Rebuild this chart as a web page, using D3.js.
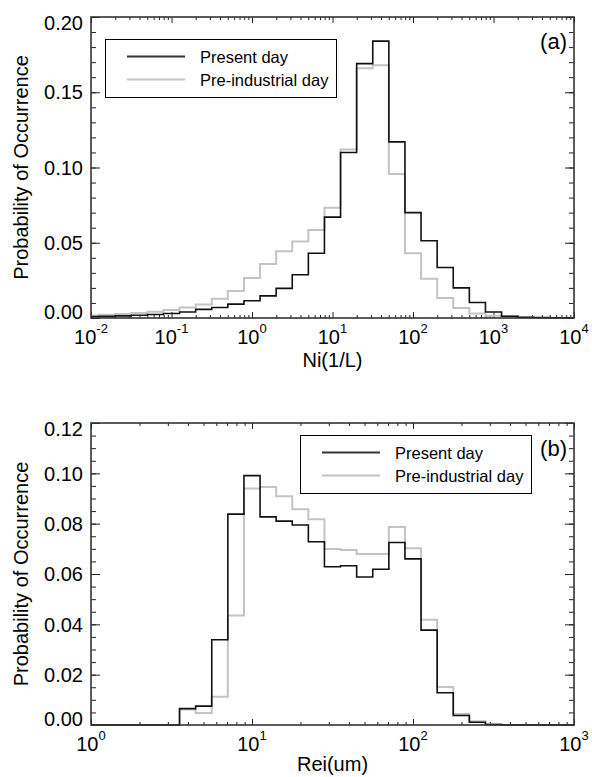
<!DOCTYPE html>
<html>
<head>
<meta charset="utf-8">
<script src="https://cdn.jsdelivr.net/npm/d3@7"></script>
<style>
body { margin: 0; background: #fff; }
text { font-family: "Liberation Sans", Arial, Helvetica, sans-serif; fill: #000; }
</style>
</head>
<body>
<svg id="chart" width="592" height="777"></svg>
<script>
// Panel (a): bin centres given as log10(Ni)
const niExp = [-2.0, -1.8, -1.6, -1.4, -1.2, -1.0, -0.8, -0.6, -0.4, -0.2, 0.0, 0.2, 0.4, 0.6, 0.8, 1.0,
               1.2, 1.4, 1.6, 1.8, 2.0, 2.2, 2.4, 2.6, 2.8, 3.0, 3.2, 3.4, 3.6, 3.8, 4.0];
const niPresent = [0.0009, 0.0011, 0.0014, 0.0018, 0.0023, 0.0030, 0.0040, 0.0057, 0.0070, 0.0092, 0.0115,
                   0.0147, 0.0197, 0.0287, 0.0430, 0.0670, 0.1100, 0.1690, 0.1840, 0.1170, 0.0700, 0.0513,
                   0.0336, 0.0200, 0.0103, 0.0040, 0.0012, 0.0005, 0.0003, 0.0002, 0.0001];
const niPreInd = [0.0016, 0.0021, 0.0027, 0.0033, 0.0042, 0.0053, 0.0070, 0.0090, 0.0128, 0.0180, 0.0265,
                  0.0358, 0.0443, 0.0508, 0.0585, 0.0733, 0.1120, 0.1660, 0.1680, 0.0956, 0.0430, 0.0260,
                  0.0133, 0.0067, 0.0030, 0.0015, 0.0011, 0.0004, 0.0002, 0.0001, 0.0000];
const niXTicks = [-2, -1, 0, 1, 2, 3, 4];
const niYTicks = [0, 0.05, 0.10, 0.15, 0.20];

// Panel (b): bin centres given as log10(Rei)
const reiExp = [0.0, 0.1, 0.2, 0.3, 0.4, 0.5, 0.6, 0.7, 0.8, 0.9, 1.0, 1.1, 1.2, 1.3, 1.4, 1.5,
                1.6, 1.7, 1.8, 1.9, 2.0, 2.1, 2.2, 2.3, 2.4, 2.5, 2.6, 2.7, 2.8, 2.9, 3.0];
const reiPresent = [0, 0, 0, 0, 0, 0, 0.0065, 0.0075, 0.0339, 0.0838, 0.0991, 0.0827, 0.0810, 0.0795,
                    0.0728, 0.0629, 0.0633, 0.0588, 0.0619, 0.0725, 0.0660, 0.0377, 0.0128, 0.0038,
                    0.0011, 0.0002, 0, 0, 0, 0, 0];
const reiPreInd = [0, 0, 0, 0, 0, 0, 0.0062, 0.0048, 0.0112, 0.0435, 0.0940, 0.0946, 0.0909, 0.0857,
                   0.0818, 0.0699, 0.0695, 0.0679, 0.0679, 0.0787, 0.0702, 0.0418, 0.0151, 0.0044,
                   0.0015, 0.0003, 0, 0, 0, 0, 0];
const reiXTicks = [0, 1, 2, 3];
const reiYTicks = [0, 0.02, 0.04, 0.06, 0.08, 0.10, 0.12];

const seriesNames = ["Present day", "Pre-industrial day"];
const seriesColors = ["#111", "#c4c4c4"];

const svg = d3.select("#chart");
svg.append("rect").attr("width", 592).attr("height", 777).attr("fill", "#fff");

const left = 91, right = 574;

function tickAxis(g, maker, scale, values, size, tx, ty) {
    const a = g.append("g")
        .attr("transform", `translate(${tx},${ty})`)
        .call(maker(scale).tickValues(values).tickSize(-size).tickFormat(""));
    a.select(".domain").remove();
    a.selectAll("line").attr("stroke", "#222");
}

function drawPanel(p) {
    const g = svg.append("g");
    const x = d3.scaleLog().domain([10 ** p.xTicks[0], 10 ** p.xTicks[p.xTicks.length - 1]]).range([left, right]);
    const y = d3.scaleLinear().domain([0, p.yTicks[p.yTicks.length - 1]]).range([p.bottom, p.top]);

    // minor ticks: 2..9 in each decade, regular steps on y
    const xMinor = [];
    p.xTicks.slice(0, -1).forEach(e => { for (let k = 2; k <= 9; k++) xMinor.push(k * 10 ** e); });
    const xMajor = p.xTicks.map(e => 10 ** e);
    const yMinor = d3.range(0, y.domain()[1] + 1e-9, p.yMinor);

    tickAxis(g, d3.axisBottom, x, xMinor, 3, 0, p.bottom);
    tickAxis(g, d3.axisBottom, x, xMajor, 6, 0, p.bottom);
    tickAxis(g, d3.axisTop, x, xMinor, 3, 0, p.top);
    tickAxis(g, d3.axisTop, x, xMajor, 6, 0, p.top);
    tickAxis(g, d3.axisLeft, y, yMinor, 5, left, 0);
    tickAxis(g, d3.axisLeft, y, p.yTicks, 9, left, 0);
    tickAxis(g, d3.axisRight, y, yMinor, 5, right, 0);
    tickAxis(g, d3.axisRight, y, p.yTicks, 9, right, 0);

    // histograms, gray first so black sits on top
    const line = d3.line()
        .x(d => x(10 ** d[0]))
        .y(d => y(d[1]))
        .curve(d3.curveStep);
    g.append("path")
        .datum(p.xs.map((e, i) => [e, p.pre[i]]))
        .attr("fill", "none").attr("stroke", seriesColors[1]).attr("stroke-width", 2)
        .attr("d", line);
    g.append("path")
        .datum(p.xs.map((e, i) => [e, p.present[i]]))
        .attr("fill", "none").attr("stroke", seriesColors[0]).attr("stroke-width", 1.6)
        .attr("d", line);

    // frame
    g.append("rect")
        .attr("x", left).attr("y", p.top)
        .attr("width", right - left).attr("height", p.bottom - p.top)
        .attr("fill", "none").attr("stroke", "#333").attr("stroke-width", 1.6);

    // y tick labels (end labels pulled inward like the original)
    const fmt = d3.format(".2f");
    p.yTicks.forEach((v, i) => {
        let shift = 0;
        if (i === 0) shift = -6;
        if (i === p.yTicks.length - 1) shift = 6;
        g.append("text")
            .attr("x", 83).attr("y", y(v) + shift)
            .attr("dy", "0.36em")
            .attr("text-anchor", "end")
            .style("font-size", "20px")
            .text(fmt(v));
    });

    // x tick labels 10^n
    p.xTicks.forEach(e => {
        const t = g.append("text")
            .attr("x", x(10 ** e)).attr("y", p.bottom + 26)
            .attr("text-anchor", "middle")
            .style("font-size", "20px");
        t.append("tspan").text("10");
        t.append("tspan").attr("dy", -11).style("font-size", "13px").text(String(e));
    });

    // axis titles
    g.append("text")
        .attr("x", (left + right) / 2).attr("y", p.bottom + p.titleDy)
        .attr("text-anchor", "middle")
        .style("font-size", "20px")
        .text(p.xTitle);
    g.append("text")
        .attr("transform", `translate(28,${(p.top + p.bottom) / 2}) rotate(-90)`)
        .attr("text-anchor", "middle")
        .style("font-size", "20px")
        .text("Probability of Occurrence");

    // panel tag
    g.append("text")
        .attr("x", 567).attr("y", p.top + p.tagDy)
        .attr("text-anchor", "end")
        .style("font-size", "22px")
        .text(p.tag);

    // legend
    const lg = g.append("g").attr("transform", `translate(${p.legend[0]},${p.legend[1]})`);
    lg.append("rect")
        .attr("x", 0.5).attr("y", 0.5).attr("width", 231).attr("height", 58)
        .attr("fill", "#fff").attr("stroke", "#000").attr("stroke-width", 1);
    seriesNames.forEach((name, i) => {
        lg.append("line")
            .attr("x1", 22).attr("x2", 80)
            .attr("y1", 17.5 + i * 23).attr("y2", 17.5 + i * 23)
            .attr("stroke", i === 0 ? "#333" : seriesColors[1]).attr("stroke-width", 2);
        lg.append("text")
            .attr("x", 95).attr("y", 23.5 + i * 23)
            .style("font-size", "16.5px")
            .text(name);
    });
}

drawPanel({
    top: 17, bottom: 318, xs: niExp, present: niPresent, pre: niPreInd,
    xTicks: niXTicks, yTicks: niYTicks, yMinor: 0.01,
    xTitle: "Ni(1/L)", titleDy: 49, tag: "(a)", tagDy: 32, legend: [105, 39]
});

drawPanel({
    top: 423, bottom: 725, xs: reiExp, present: reiPresent, pre: reiPreInd,
    xTicks: reiXTicks, yTicks: reiYTicks, yMinor: 0.005,
    xTitle: "Rei(um)", titleDy: 46, tag: "(b)", tagDy: 33, legend: [300, 435]
});
</script>
</body>
</html>
